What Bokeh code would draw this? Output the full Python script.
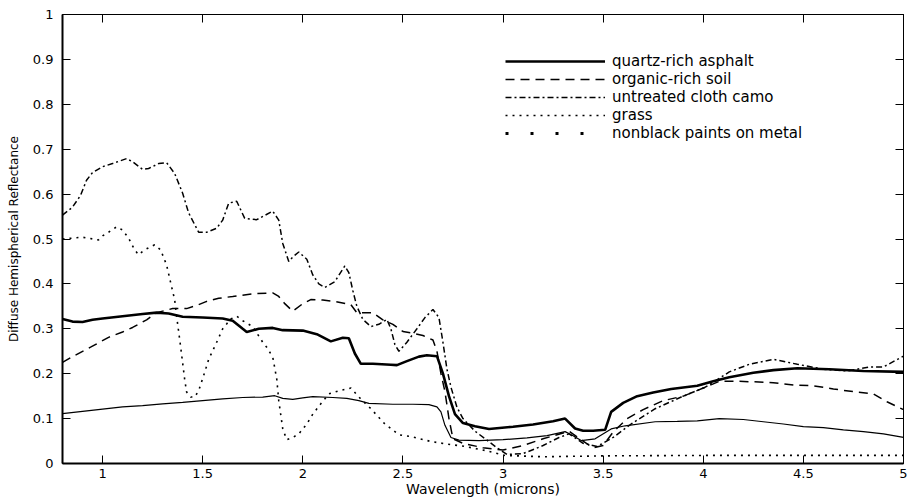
from bokeh.plotting import figure
from bokeh.models import (Range1d, LinearAxis, FixedTicker, Legend, LegendItem,
                          CustomLabelingPolicy)
from bokeh.embed import file_html
from bokeh.resources import INLINE

# ---------------- data ----------------
x_ticks = [1, 1.5, 2, 2.5, 3, 3.5, 4, 4.5, 5]
x_tick_labels = ["1", "1.5", "2", "2.5", "3", "3.5", "4", "4.5", "5"]
y_ticks = [0, 0.1, 0.2, 0.3, 0.4, 0.5, 0.6, 0.7, 0.8, 0.9, 1.0]
y_tick_labels = ["0", "0.1", "0.2", "0.3", "0.4", "0.5", "0.6", "0.7", "0.8", "0.9", "1"]

series_names = ["quartz-rich asphalt", "organic-rich soil", "untreated cloth camo",
                "grass", "nonblack paints on metal"]

asphalt_x = [0.80, 0.85, 0.90, 0.95, 1.00, 1.10, 1.20, 1.27, 1.33, 1.40, 1.50, 1.60, 1.65,
             1.70, 1.72, 1.78, 1.85, 1.90, 2.00, 2.07, 2.14, 2.20, 2.23, 2.26, 2.29, 2.35,
             2.44, 2.47, 2.52, 2.58, 2.62, 2.67, 2.70, 2.73, 2.76, 2.80, 2.86, 2.93, 3.05,
             3.15, 3.25, 3.31, 3.36, 3.40, 3.45, 3.51, 3.54, 3.60, 3.67, 3.75, 3.84, 3.97,
             4.05, 4.13, 4.25, 4.35, 4.47, 4.63, 4.80, 5.00]
asphalt_y = [0.322, 0.316, 0.315, 0.320, 0.323, 0.328, 0.333, 0.336, 0.334, 0.327, 0.325,
             0.323, 0.318, 0.300, 0.293, 0.300, 0.302, 0.297, 0.296, 0.288, 0.272, 0.280,
             0.279, 0.245, 0.222, 0.222, 0.220, 0.219, 0.228, 0.238, 0.241, 0.239, 0.200,
             0.150, 0.110, 0.090, 0.083, 0.077, 0.082, 0.087, 0.094, 0.100, 0.078, 0.073,
             0.073, 0.075, 0.115, 0.135, 0.150, 0.158, 0.166, 0.173, 0.183, 0.192, 0.202,
             0.208, 0.212, 0.210, 0.206, 0.204]

soil_x = [0.80, 0.85, 0.94, 1.03, 1.10, 1.15, 1.22, 1.27, 1.35, 1.42, 1.47, 1.52, 1.58, 1.65,
          1.75, 1.85, 1.88, 1.91, 1.95, 2.00, 2.04, 2.10, 2.16, 2.24, 2.27, 2.35, 2.40, 2.45,
          2.50, 2.55, 2.60, 2.65, 2.67, 2.69, 2.71, 2.73, 2.75, 2.80, 2.90, 3.00, 3.10, 3.20,
          3.30, 3.33, 3.40, 3.45, 3.50, 3.55, 3.62, 3.70, 3.80, 3.90, 4.00, 4.08, 4.18,
          4.25, 4.35, 4.45, 4.55, 4.65, 4.75, 4.85, 4.92, 5.00]
soil_y = [0.225, 0.238, 0.259, 0.281, 0.293, 0.303, 0.320, 0.336, 0.345, 0.345, 0.352, 0.361,
          0.368, 0.372, 0.378, 0.380, 0.372, 0.356, 0.339, 0.356, 0.365, 0.364, 0.361, 0.354,
          0.336, 0.336, 0.320, 0.310, 0.294, 0.290, 0.285, 0.275, 0.250, 0.200, 0.160, 0.100,
          0.055, 0.045, 0.035, 0.030, 0.040, 0.055, 0.068, 0.072, 0.050, 0.035, 0.040, 0.070,
          0.100, 0.120, 0.140, 0.150, 0.168, 0.183, 0.183, 0.182, 0.180, 0.175, 0.173,
          0.166, 0.160, 0.155, 0.137, 0.120]

camo_x = [0.80, 0.85, 0.89, 0.92, 0.95, 1.00, 1.05, 1.12, 1.15, 1.20, 1.23, 1.28, 1.32, 1.36,
          1.40, 1.43, 1.48, 1.52, 1.57, 1.60, 1.63, 1.67, 1.71, 1.77, 1.85, 1.88, 1.90, 1.93,
          1.95, 1.98, 2.02, 2.05, 2.08, 2.11, 2.16, 2.21, 2.23, 2.25, 2.27, 2.30, 2.34, 2.38,
          2.42, 2.44, 2.46, 2.48, 2.52, 2.57, 2.61, 2.65, 2.68, 2.70, 2.72, 2.74, 2.77, 2.80,
          2.86, 2.92, 2.97, 3.02, 3.10, 3.20, 3.28, 3.33, 3.40, 3.47, 3.55, 3.64, 3.76, 3.89,
          4.01, 4.05, 4.13, 4.23, 4.35, 4.47, 4.60, 4.72, 4.83, 4.90, 4.97, 5.00]
camo_y = [0.553, 0.571, 0.597, 0.631, 0.648, 0.661, 0.668, 0.679, 0.672, 0.655, 0.657, 0.668,
          0.670, 0.646, 0.602, 0.558, 0.515, 0.515, 0.524, 0.542, 0.580, 0.584, 0.546, 0.543,
          0.562, 0.542, 0.490, 0.450, 0.460, 0.471, 0.455, 0.420, 0.400, 0.392, 0.405, 0.440,
          0.425, 0.385, 0.350, 0.321, 0.305, 0.310, 0.321, 0.300, 0.265, 0.250, 0.270, 0.300,
          0.325, 0.343, 0.325, 0.270, 0.210, 0.170, 0.125, 0.100, 0.072, 0.052, 0.035, 0.020,
          0.022, 0.040, 0.058, 0.066, 0.045, 0.038, 0.058, 0.088, 0.122, 0.148, 0.170, 0.181,
          0.204, 0.221, 0.232, 0.221, 0.210, 0.206, 0.215, 0.215, 0.232, 0.239]

grass_x = [0.80, 0.85, 0.90, 0.98, 1.00, 1.03, 1.07, 1.10, 1.13, 1.16, 1.18, 1.21, 1.26, 1.29,
           1.32, 1.34, 1.36, 1.37, 1.39, 1.41, 1.42, 1.44, 1.46, 1.48, 1.51, 1.53, 1.57, 1.60,
           1.64, 1.67, 1.70, 1.75, 1.80, 1.82, 1.85, 1.87, 1.88, 1.90, 1.92, 1.95, 1.98, 2.02,
           2.05, 2.09, 2.13, 2.18, 2.24, 2.28, 2.34, 2.41, 2.48, 2.54, 2.64, 2.71, 2.81, 2.91,
           3.01, 3.20, 3.50, 4.00, 4.50, 5.00]
grass_y = [0.500, 0.502, 0.504, 0.498, 0.507, 0.515, 0.527, 0.520, 0.502, 0.476, 0.465, 0.476,
           0.487, 0.476, 0.442, 0.403, 0.365, 0.328, 0.260, 0.188, 0.159, 0.148, 0.148, 0.162,
           0.203, 0.232, 0.270, 0.300, 0.322, 0.328, 0.318, 0.305, 0.270, 0.259, 0.237, 0.188,
           0.140, 0.077, 0.053, 0.058, 0.066, 0.088, 0.110, 0.133, 0.155, 0.162, 0.168, 0.148,
           0.122, 0.088, 0.064, 0.060, 0.049, 0.044, 0.038, 0.029, 0.018, 0.015, 0.017, 0.018,
           0.018, 0.018]

paint_x = [0.80, 0.90, 1.00, 1.10, 1.20, 1.30, 1.40, 1.50, 1.60, 1.70, 1.80, 1.86, 1.90, 1.95,
           2.00, 2.05, 2.15, 2.22, 2.28, 2.33, 2.45, 2.55, 2.63, 2.67, 2.69, 2.71, 2.74, 2.78,
           2.88, 3.00, 3.12, 3.22, 3.31, 3.35, 3.39, 3.46, 3.54, 3.61, 3.76, 3.87, 3.97,
           4.08, 4.20, 4.30, 4.40, 4.50, 4.60, 4.70, 4.80, 4.90, 5.00]
paint_y = [0.111, 0.116, 0.121, 0.126, 0.129, 0.133, 0.136, 0.140, 0.144, 0.147, 0.148, 0.151,
           0.145, 0.143, 0.146, 0.149, 0.147, 0.145, 0.140, 0.134, 0.132, 0.132, 0.131, 0.126,
           0.115, 0.085, 0.058, 0.052, 0.051, 0.053, 0.057, 0.062, 0.071, 0.062, 0.051, 0.055,
           0.077, 0.084, 0.093, 0.094, 0.095, 0.100, 0.098, 0.093, 0.088, 0.082, 0.080,
           0.075, 0.071, 0.066, 0.058]

# ---------------- figure ----------------
FONT = "DejaVu Sans"

p = figure(width=908, height=499, output_backend="svg", toolbar_location=None,
           x_range=Range1d(0.8, 5), y_range=Range1d(0, 1),
           min_border_left=62, min_border_right=1, min_border_top=14, min_border_bottom=0)
p.xaxis.visible = False
p.yaxis.visible = False
p.grid.visible = False
p.outline_line_color = "black"
p.outline_line_width = 1
p.background_fill_color = "white"
p.border_fill_color = "white"

no_labels = CustomLabelingPolicy(code="""
    const ids = [...indices]
    for (const i of ids) { indices.unset(i) }
    return indices
""")


def style_axis(ax, labels, hide=False):
    ax.major_tick_in = 8
    ax.major_tick_out = 0
    ax.minor_tick_in = 0
    ax.minor_tick_out = 0
    ax.axis_line_color = "black"
    ax.major_tick_line_color = "black"
    ax.major_label_text_font = FONT
    ax.major_label_text_color = "black"
    if hide:
        ax.major_label_text_font_size = "1px"
        ax.major_label_standoff = 0
        ax.major_label_policy = no_labels
    else:
        ax.major_label_text_font_size = "13px"
        ax.major_label_overrides = labels
        ax.axis_label_text_font = FONT
        ax.axis_label_text_font_style = "normal"
        ax.axis_label_text_color = "black"


xb = LinearAxis(ticker=FixedTicker(ticks=x_ticks), axis_label="Wavelength (microns)")
style_axis(xb, dict(zip(x_ticks, x_tick_labels)))
xb.axis_line_width = 2
xb.major_label_standoff = 5
xb.axis_label_standoff = 0
xb.axis_label_text_font_size = "14px"
p.add_layout(xb, "below")

yl = LinearAxis(ticker=FixedTicker(ticks=y_ticks), axis_label="Diffuse Hemispherical Reflectance")
style_axis(yl, dict(zip(y_ticks, y_tick_labels)))
yl.axis_line_width = 2
yl.major_label_standoff = 9
yl.axis_label_standoff = 9
yl.axis_label_text_font_size = "12px"
p.add_layout(yl, "left")

xt = LinearAxis(ticker=FixedTicker(ticks=x_ticks))
style_axis(xt, None, hide=True)
p.add_layout(xt, "above")

yr = LinearAxis(ticker=FixedTicker(ticks=y_ticks))
style_axis(yr, None, hide=True)
p.add_layout(yr, "right")

# ---------------- curves ----------------
r_asphalt = p.line(asphalt_x, asphalt_y, line_color="black", line_width=2.6)
r_soil = p.line(soil_x, soil_y, line_color="black", line_width=1.5, line_dash="9 6")
r_camo = p.line(camo_x, camo_y, line_color="black", line_width=1.5, line_dash="6 3 2 3")
r_grass = p.line(grass_x, grass_y, line_color="black", line_width=1.6, line_dash="2 5")
r_paint = p.line(paint_x, paint_y, line_color="black", line_width=1.2)
# legend key for the paint series: a single point (draws nothing in the plot),
# shown as sparse dots in the legend like the reference
r_paint_key = p.line(paint_x[:1], paint_y[:1], line_color="black", line_width=3,
                     line_dash="3 22")

legend = Legend(items=[
    LegendItem(label=series_names[0], renderers=[r_asphalt]),
    LegendItem(label=series_names[1], renderers=[r_soil]),
    LegendItem(label=series_names[2], renderers=[r_camo]),
    LegendItem(label=series_names[3], renderers=[r_grass]),
    LegendItem(label=series_names[4], renderers=[r_paint_key]),
])
legend.location = (443, 321)
legend.glyph_width = 100
legend.glyph_height = 16
legend.label_height = 16
legend.label_standoff = 7
legend.spacing = 0
legend.padding = 0
legend.margin = 0
legend.border_line_color = None
legend.background_fill_alpha = 0
legend.label_text_font = FONT
legend.label_text_font_size = "15px"
legend.label_text_color = "black"
p.add_layout(legend)

open("out.html", "w").write(file_html(p, INLINE))
